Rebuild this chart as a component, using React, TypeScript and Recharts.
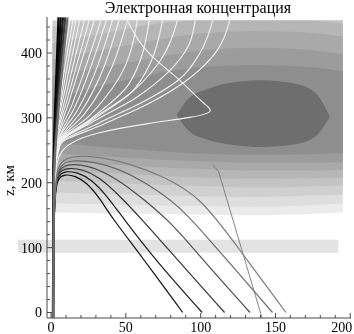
import React from 'react';
import { ComposedChart, Line, Area, XAxis, YAxis, ReferenceArea } from 'recharts';

const xDomain: [number, number] = [-2.7, 200.5];
const yDomain: [number, number] = [-8.5, 455.5];

const xTicks = [0, 10, 20, 30, 40, 50, 60, 70, 80, 90, 100, 110, 120, 130, 140, 150, 160, 170, 180, 190, 200];
const yTicks = [0, 20, 40, 60, 80, 100, 120, 140, 160, 180, 200, 220, 240, 260, 280, 300, 320, 340, 360, 380, 400, 420, 440];
const xLabelTicks = [0, 50, 100, 150, 200];
const yLabelTicks = [0, 100, 200, 300, 400];

const titleText = 'Электронная концентрация';
const yLabelText = 'z, км';

// electron concentration contour levels (outer -> inner)
const shadeX = [1, 35, 70, 100, 136, 170, 195];
const shadeFill = ['#ebebeb', '#dedede', '#d0d0d0', '#c3c3c3', '#b6b6b6', '#a9a9a9', '#9c9c9c', '#8e8e8e'];
const shadeLo = [
  [154, 153, 152, 151, 150, 152, 154],
  [168, 167, 165, 164, 163, 165, 168],
  [185, 183, 181, 179, 178, 180, 182],
  [203, 200, 197, 195, 193, 194, 196],
  [218, 215, 211, 208, 206, 207, 208],
  [232, 228, 224, 221, 219, 219, 220],
  [246, 241, 236, 233, 231, 231, 232],
  [262, 255, 249, 245, 243, 244, 246],
];
const shadeHi = [
  [450, 450, 450, 450, 450, 450, 450],
  [450, 450, 450, 450, 450, 450, 450],
  [450, 450, 450, 450, 450, 450, 450],
  [440, 450, 450, 450, 450, 450, 450],
  [415, 430, 445, 450, 450, 450, 445],
  [390, 405, 420, 430, 434, 432, 425],
  [365, 378, 393, 404, 408, 405, 398],
  [330, 350, 368, 378, 381, 379, 372],
];
const coreX = [84, 92, 105, 120, 140, 160, 176, 186];
const coreLo = [305, 280, 266, 259, 255, 258, 270, 300];
const coreHi = [305, 330, 345, 354, 358, 354, 340, 304];
const coreFill = '#6e6e6e';

const bandX = [-22, 192];
const bandY = [92, 112];

// rays: [x, y] pairs
const upRays: number[][][] = [
  [[1.5, 0], [2, 200], [3, 280], [6, 350], [13, 455]],
  [[1.5, 0], [2, 200], [3, 276], [7, 345], [15, 455]],
  [[1.5, 0], [2, 200], [3, 272], [8, 343], [17, 455]],
  [[1.5, 0], [2, 200], [3, 270], [9, 340], [19.5, 455]],
  [[1.5, 0], [2, 200], [3.5, 268], [10, 335], [22.8, 455]],
  [[1.5, 0], [2, 200], [3.5, 266], [11, 330], [26, 455]],
  [[1.5, 0], [2, 200], [4, 265], [12, 325], [29.5, 455]],
  [[1.5, 0], [2, 200], [4, 264], [14, 320], [34, 455]],
  [[1.5, 0], [2, 200], [4.5, 263], [16, 317], [37.6, 455]],
  [[1.5, 0], [2, 200], [4.5, 262], [18, 313], [41.6, 455]],
  [[1.5, 0], [2, 200], [5, 262], [20, 309], [46, 455]],
  [[1.5, 0], [2, 200], [5, 261], [22, 305], [51.7, 455]],
  [[1.5, 0], [2, 200], [5, 261], [25, 302], [45, 360], [58, 455]],
  [[1.5, 0], [2, 200], [5, 260], [27, 299], [52, 352], [66, 455]],
  [[1.5, 0], [2, 200], [5.5, 260], [28, 297], [56, 345], [75, 455]],
  [[1.5, 0], [2, 200], [5.5, 260], [26, 296], [52, 336], [72, 385], [85, 455]],
  [[1.5, 0], [2, 200], [6, 260], [28, 294], [56, 330], [79, 372], [92, 412], [96.6, 455]],
  [[1.5, 0], [2, 200], [6, 259], [31, 291], [61, 324], [86, 360], [100, 402], [108.7, 455]],
  [[1.5, 0], [2, 200], [6, 258], [35, 290], [66, 323], [89, 355], [107, 392], [120, 455]],
];
const loopRay: number[][] = [
  [1.5, 0], [2, 200], [4, 256], [30, 278], [66, 292], [95, 301], [110, 309], [102, 322], [95, 338], [85, 361], [70, 388], [58, 418], [50, 455],
];
const downRays: number[][][] = [
  [[1.5, 0], [2, 170], [4, 207], [9, 213], [16, 211], [24, 200], [32, 178], [41, 145], [60, 88], [88, 0]],
  [[1.5, 0], [2, 175], [4, 212], [10, 218], [18, 216], [27, 205], [37, 181], [48, 146], [70, 80], [101, 0]],
  [[1.5, 0], [2, 180], [4, 217], [11, 223], [21, 221], [32, 209], [45, 182], [61, 143], [85, 80], [116, 0]],
  [[1.5, 0], [2, 185], [4.5, 222], [12, 229], [24, 227], [38, 214], [55, 188], [80, 140], [100, 85], [133, 0]],
  [[1.5, 0], [2, 190], [5, 228], [14, 235], [28, 233], [45, 222], [65, 198], [85, 165], [100, 128], [148, 0]],
  [[1.5, 0], [2, 195], [5, 234], [16, 242], [32, 240], [52, 230], [75, 210], [100, 178], [125, 100], [157, 0]],
];
const downColors = ['#111111', '#1c1c1c', '#333333', '#4d4d4d', '#6a6a6a', '#7c7c7c'];
const steepRay: number[][] = [[108, 228], [112, 217], [141, -8]];
const bundleRays: number[][][] = [
  [[1.3, -8.5], [1.5, 200], [2.5, 300], [5, 455]],
  [[1.3, -8.5], [1.6, 200], [3, 300], [6.5, 455]],
  [[1.4, -8.5], [1.7, 200], [3.5, 300], [8, 455]],
  [[1.4, -8.5], [1.8, 200], [4, 300], [9.5, 455]],
  [[1.5, -8.5], [1.9, 200], [4.5, 300], [11, 455]],
];
const bundleColors = ['#000000', '#0a0a0a', '#1a1a1a', '#3a3a3a', '#707070'];

const AXIS_COLOR = '#4a4a4a';
const FONT = '"Liberation Serif", "Times New Roman", serif';

const toPts = (r: number[][]) => r.map(([x, y]) => ({ x, y }));

function BottomTick(props: any) {
  const { x, y, payload } = props;
  const v = payload.value;
  const major = xLabelTicks.includes(v);
  return (
    <g>
      <line x1={x} x2={x} y1={y} y2={y - (major ? 5 : 3)} stroke={AXIS_COLOR} />
      {major && (
        <text x={v === 200 ? x + 2 : x} y={y + 14} textAnchor={v === 200 ? 'end' : 'middle'} fontFamily={FONT} fontSize={14} fill="#000">
          {v}
        </text>
      )}
    </g>
  );
}
function TopTick(props: any) {
  const { x, y, payload } = props;
  const major = xLabelTicks.includes(payload.value);
  return <line x1={x} x2={x} y1={y} y2={y + (major ? 5 : 3)} stroke={AXIS_COLOR} />;
}
function LeftTick(props: any) {
  const { x, y, payload } = props;
  const v = payload.value;
  const major = yLabelTicks.includes(v);
  return (
    <g>
      <line x1={x} x2={x + (major ? 5 : 3)} y1={y} y2={y} stroke={AXIS_COLOR} />
      {major && (
        <text x={x - 5} y={y + 5} textAnchor="end" fontFamily={FONT} fontSize={14} fill="#000">
          {v}
        </text>
      )}
    </g>
  );
}
function RightTick(props: any) {
  const { x, y, payload } = props;
  const major = yLabelTicks.includes(payload.value);
  return <line x1={x} x2={x - (major ? 5 : 3)} y1={y} y2={y} stroke={AXIS_COLOR} />;
}

export default function App() {
  const levels = shadeLo.map((lo, i) => shadeX.map((x, j) => ({ x, range: [lo[j], shadeHi[i][j]] })));
  const core = coreX.map((x, j) => ({ x, range: [coreLo[j], coreHi[j]] }));
  return (
    <div style={{ position: 'fixed', left: 0, top: 0, width: 354, height: 334, background: '#fff' }}>
      <div style={{ position: 'absolute', left: 47, top: 0, width: 302, textAlign: 'center', fontFamily: FONT, fontSize: 16, lineHeight: '15px', color: '#000', whiteSpace: 'nowrap' }}>
        {titleText}
      </div>
      <div style={{ position: 'absolute', left: 1, top: 170, width: 16, height: 20, display: 'flex', alignItems: 'center', justifyContent: 'center' }}>
        <span style={{ display: 'inline-block', transform: 'rotate(-90deg)', fontFamily: FONT, fontSize: 15, color: '#000', whiteSpace: 'nowrap' }}>
          {yLabelText}
        </span>
      </div>
      <ComposedChart width={354} height={334} margin={{ top: 17, right: 3, bottom: 0, left: 0 }} style={{ position: 'absolute', left: 0, top: 0 }}>
        <XAxis xAxisId={0} dataKey="x" type="number" domain={xDomain} allowDataOverflow ticks={xTicks} interval={0}
          tick={<BottomTick />} tickLine={false} tickSize={0} tickMargin={0} height={16} axisLine={{ stroke: AXIS_COLOR }} />
        <XAxis xAxisId="top" orientation="top" dataKey="x" type="number" domain={xDomain} allowDataOverflow ticks={xTicks} interval={0}
          tick={<TopTick />} tickLine={false} tickSize={0} tickMargin={0} height={0} axisLine={{ stroke: AXIS_COLOR }} />
        <YAxis yAxisId={0} type="number" domain={yDomain} allowDataOverflow ticks={yTicks} interval={0}
          tick={<LeftTick />} tickLine={false} tickSize={0} tickMargin={0} width={47} axisLine={{ stroke: AXIS_COLOR }} />
        <YAxis yAxisId="right" orientation="right" type="number" domain={yDomain} allowDataOverflow ticks={yTicks} interval={0}
          tick={<RightTick />} tickLine={false} tickSize={0} tickMargin={0} width={0} axisLine={{ stroke: AXIS_COLOR }} />

        {levels.map((d, i) => (
          <Area key={'lv' + i} data={d} dataKey="range" type="monotone" stroke="none" fill={shadeFill[i]} fillOpacity={1} isAnimationActive={false} />
        ))}
        <Area data={core} dataKey="range" type="monotone" stroke="none" fill={coreFill} fillOpacity={1} isAnimationActive={false} />
        <ReferenceArea x1={bandX[0]} x2={bandX[1]} y1={bandY[0]} y2={bandY[1]} ifOverflow="visible" fill="#e3e3e3" fillOpacity={1} stroke="none" />

        {upRays.map((r, i) => (
          <Line key={'up' + i} data={toPts(r)} dataKey="y" type="monotoneY" dot={false} stroke="#f2f2f2" strokeWidth={1.1} isAnimationActive={false} />
        ))}
        <Line data={toPts(loopRay)} dataKey="y" type="basis" dot={false} stroke="#f2f2f2" strokeWidth={1.1} isAnimationActive={false} />
        {downRays.map((r, i) => (
          <Line key={'dn' + i} data={toPts(r)} dataKey="y" type="basis" dot={false} stroke={downColors[i]} strokeWidth={1.2} isAnimationActive={false} />
        ))}
        <Line data={toPts(steepRay)} dataKey="y" type="linear" dot={false} stroke="#777777" strokeWidth={0.9} isAnimationActive={false} />
        {bundleRays.map((r, i) => (
          <Line key={'bd' + i} data={toPts(r)} dataKey="y" type="monotoneY" dot={false} stroke={bundleColors[i]} strokeWidth={2.2} isAnimationActive={false} />
        ))}
      </ComposedChart>
    </div>
  );
}
